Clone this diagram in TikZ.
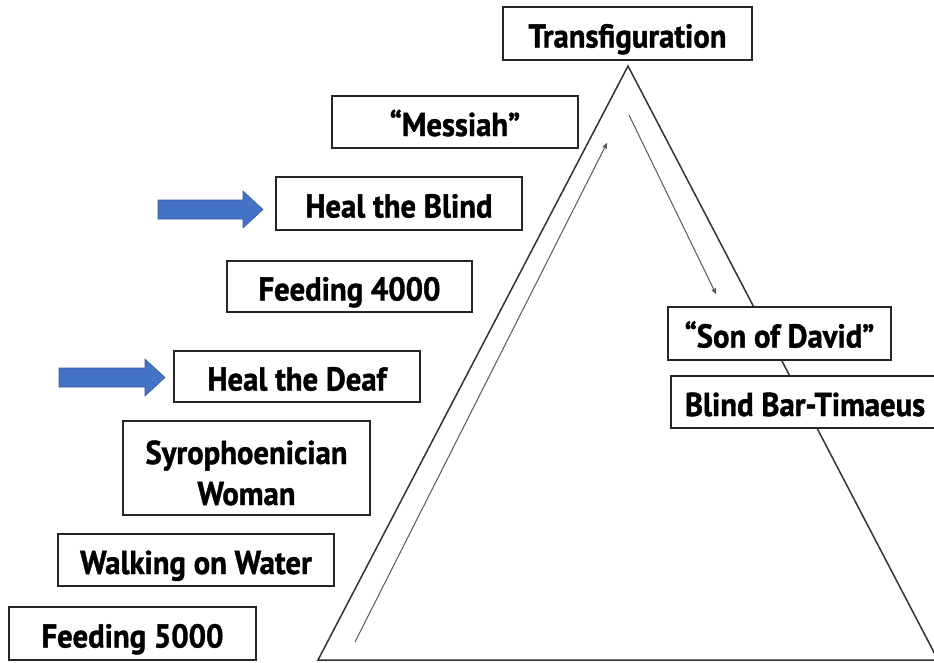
\documentclass[tikz,border=0pt]{standalone}
\usepackage{fontspec}
\setmainfont[FakeStretch=0.93, BoldFeatures={FakeBold=1.2}]{PT Sans}
\usepackage{tikz}
\usetikzlibrary{arrows}
\definecolor{arrowblue}{HTML}{4472C4}

\begin{document}
\begin{tikzpicture}[x=1pt,y=-1pt,>=stealth',auto]
	\tikzstyle{event}=[rectangle, draw=black!85, line width=1.2pt, fill=white, inner sep=0pt, align=center, font=\fontsize{33}{41}\selectfont\bfseries]
	\tikzstyle{event line}=[event, text height=34pt, text depth=6pt]
	\tikzstyle{journey}=[draw=black!65, line width=1pt, ->, shorten >=-2pt]
	\tikzstyle{pointer}=[fill=arrowblue, draw=arrowblue!80!black, line width=0.6pt]

	\useasboundingbox (0,0) rectangle (934,662);

	% the mountain
	\coordinate (apex) at (628,66);
	\coordinate (foot left) at (318,660);
	\coordinate (foot right) at (938,660);
	\draw [line width=1.5pt, black!80] (apex) -- (foot left) -- (foot right) -- cycle;

	\coordinate (up start) at (355,642);
	\coordinate (up end) at (606,145);
	\coordinate (down start) at (629,115);
	\coordinate (down end) at (715,292);
	\draw [journey] (up start) -- (up end);
	\draw [journey] (down start) -- (down end);

	% blue pointers
	\filldraw [pointer] (158,200) -- (243,200) -- (243,191) -- (263,209.5) -- (243,228) -- (243,219) -- (158,219) -- cycle;
	\filldraw [pointer] (59,368) -- (145,368) -- (145,359) -- (165,377.5) -- (145,396) -- (145,387) -- (59,387) -- cycle;

	% the events
	\node [event line, minimum width=249pt, minimum height=53pt] (trans) at (627.5,33.5) {Transfiguration};
	\node [event line, minimum width=246pt, minimum height=52pt] (messiah) at (455,122) {“Messiah”};
	\node [event line, minimum width=246pt, minimum height=53pt] (blind) at (399,203.5) {Heal the Blind};
	\node [event line, minimum width=245pt, minimum height=51pt] (feed4000) at (349.5,286.5) {Feeding 4000};
	\node [event line, minimum width=246pt, minimum height=51pt] (deaf) at (297,376.5) {Heal the Deaf};
	\node [event, minimum width=247pt, minimum height=94pt, text height=74pt, text depth=0pt] (syro) at (246.5,468) {Syrophoenician\\Woman};
	\node [event line, minimum width=276pt, minimum height=52pt] (water) at (196,560) {Walking on Water};
	\node [event line, minimum width=247pt, minimum height=53pt] (feed5000) at (132.5,633.5) {Feeding 5000};
	\node [event line, minimum width=223pt, minimum height=53pt] (david) at (779.5,333.5) {“Son of David”};
	\node [event line, minimum width=268pt, minimum height=52pt] (bartimaeus) at (805,402) {Blind Bar-Timaeus};
\end{tikzpicture}
\end{document}
